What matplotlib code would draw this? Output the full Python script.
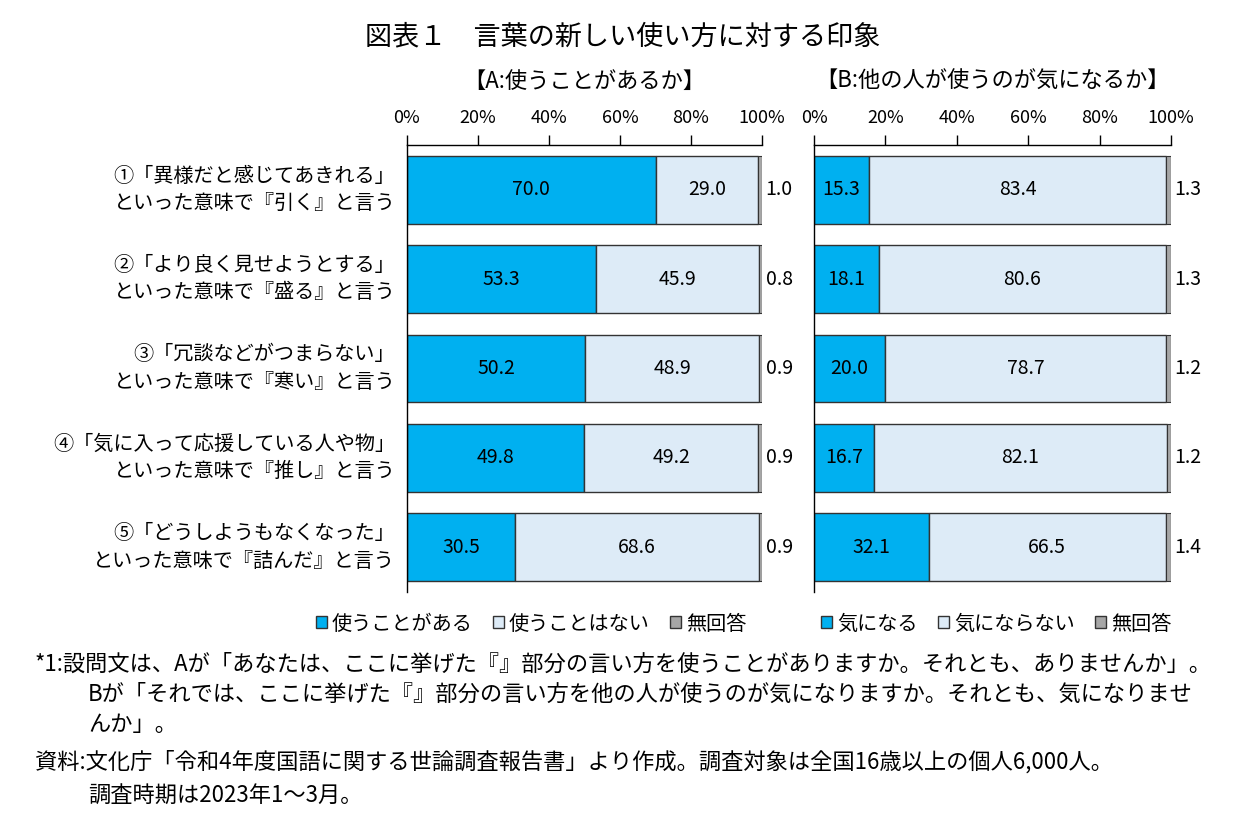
import numpy as np
import matplotlib
matplotlib.use('Agg')
import matplotlib.pyplot as plt
from matplotlib.patches import Patch

plt.rcParams['font.family'] = ['Noto Sans CJK JP', 'DejaVu Sans']

labels = ['①「異様だと感じてあきれる」\nといった意味で『引く』と言う',
          '②「より良く見せようとする」\nといった意味で『盛る』と言う',
          '③「冗談などがつまらない」\nといった意味で『寒い』と言う',
          '④「気に入って応援している人や物」\nといった意味で『推し』と言う',
          '⑤「どうしようもなくなった」\nといった意味で『詰んだ』と言う']

a_use = [70.0, 53.3, 50.2, 49.8, 30.5]
a_nouse = [29.0, 45.9, 48.9, 49.2, 68.6]
a_na = [1.0, 0.8, 0.9, 0.9, 0.9]

b_care = [15.3, 18.1, 20.0, 16.7, 32.1]
b_nocare = [83.4, 80.6, 78.7, 82.1, 66.5]
b_na = [1.3, 1.3, 1.2, 1.2, 1.4]

a_names = ['使うことがある', '使うことはない', '無回答']
b_names = ['気になる', '気にならない', '無回答']
xticks = [0, 20, 40, 60, 80, 100]

colors = ['#00B0F0', '#DDEBF7', '#A6A6A6']
edge = '#333333'

fig = plt.figure(figsize=(12.4, 8.3), dpi=100)
ax1 = fig.add_axes([407/1240, 1-592/830, 355/1240, 447/830])
ax2 = fig.add_axes([814/1240, 1-592/830, 357/1240, 447/830])

y = np.arange(len(labels))

def draw(ax, s1, s2, s3, subtitle):
    s1 = np.array(s1); s2 = np.array(s2); s3 = np.array(s3)
    h = 0.76
    ax.barh(y, s1, height=h, color=colors[0], edgecolor=edge, linewidth=1)
    ax.barh(y, s2, left=s1, height=h, color=colors[1], edgecolor=edge, linewidth=1)
    ax.barh(y, s3, left=s1 + s2, height=h, color=colors[2], edgecolor=edge, linewidth=0.8)
    for i in range(len(y)):
        ax.text(s1[i] / 2, y[i], f'{s1[i]:.1f}', ha='center', va='center', fontsize=14)
        ax.text(s1[i] + s2[i] / 2, y[i], f'{s2[i]:.1f}', ha='center', va='center', fontsize=14)
        ax.text(101, y[i], f'{s3[i]:.1f}', ha='left', va='center', fontsize=14)
    ax.set_xlim(0, 100)
    ax.set_ylim(4.5, -0.5)
    ax.xaxis.tick_top()
    ax.set_xticks(xticks)
    ax.set_xticklabels([f'{t}%' for t in xticks], fontsize=13)
    ax.tick_params(axis='x', direction='out', length=7, width=1, pad=6)
    ax.set_yticks([])
    ax.spines['right'].set_visible(False)
    ax.spines['bottom'].set_visible(False)
    for sp in ['top', 'left']:
        ax.spines[sp].set_linewidth(1)
    ax.set_title(subtitle, fontsize=16, pad=41)

draw(ax1, a_use, a_nouse, a_na, '【A:使うことがあるか】')
draw(ax2, b_care, b_nocare, b_na, '【B:他の人が使うのが気になるか】')

for i, lab in enumerate(labels):
    ax1.text(-3.3, y[i], lab, ha='right', va='center', fontsize=14.5, linespacing=1.4)

fig.text(0.502, 1-37/830, '図表１　言葉の新しい使い方に対する印象', ha='center', va='center', fontsize=19.5)

def legend(names, cx):
    handles = [Patch(facecolor=c, edgecolor=edge, linewidth=1) for c in colors]
    fig.legend(handles, names, loc='center', bbox_to_anchor=(cx, 1-624/830), ncol=3,
               frameon=False, fontsize=14.5, handlelength=0.55, handleheight=0.55,
               handletextpad=0.25, columnspacing=1.0, borderaxespad=0)

legend(a_names, 531/1240)
legend(b_names, 996/1240)

notes = [
    (35, 664, '*1:設問文は、Aが「あなたは、ここに挙げた『』部分の言い方を使うことがありますか。それとも、ありませんか」。'),
    (88, 694, 'Bが「それでは、ここに挙げた『』部分の言い方を他の人が使うのが気になりますか。それとも、気になりませ'),
    (88, 724, 'んか」。'),
    (35, 762, '資料:文化庁「令和4年度国語に関する世論調査報告書」より作成。調査対象は全国16歳以上の個人6,000人。'),
    (88, 795, '調査時期は2023年1～3月。'),
]
for nx, ny, t in notes:
    fig.text(nx/1240, 1-ny/830, t, ha='left', va='center', fontsize=16)

fig.savefig('out.png', dpi=100)
